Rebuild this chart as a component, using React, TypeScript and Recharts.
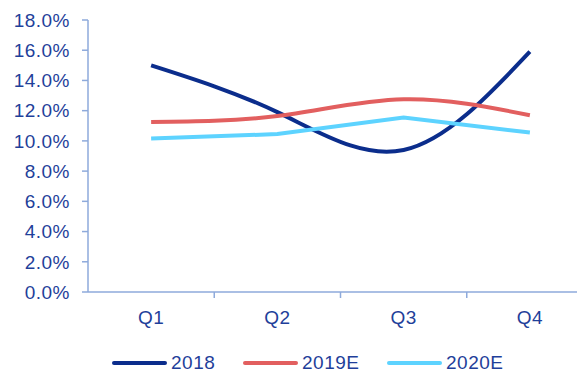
import React from "react";
import { LineChart, Line, XAxis, YAxis, Legend } from "recharts";

const categories = ["Q1", "Q2", "Q3", "Q4"];
const s2018 = [15.0, 11.9, 9.4, 15.9];
const s2019E = [11.25, 11.65, 12.75, 11.7];
const s2020E = [10.15, 10.45, 11.55, 10.55];
const yTicks = [0, 2, 4, 6, 8, 10, 12, 14, 16, 18];

const data = categories.map((c, i) => ({
  name: c,
  "2018": s2018[i],
  "2019E": s2019E[i],
  "2020E": s2020E[i],
}));

const W = 585;
const H = 364;
const LEFT = 80;
const BAND = (W - LEFT) / categories.length;
const TEXT = "#1F3F9A";
const AXIS = "#8EAADB";
const FONT = "'Liberation Sans', Arial, sans-serif";

const series = [
  { key: "2018", color: "#0B2D8C", type: "natural" as const, left: 104 },
  { key: "2019E", color: "#E25F5F", type: "natural" as const, left: 235 },
  { key: "2020E", color: "#5DD3FF", type: "linear" as const, left: 379 },
];

const XTick = (props: any) => {
  const { x, y, payload, index } = props;
  return (
    <g>
      {index > 0 && (
        <line x1={x - BAND / 2} y1={y} x2={x - BAND / 2} y2={y + 6} stroke={AXIS} strokeWidth={1.5} />
      )}
      <text x={x} y={y + 25} textAnchor="middle" dominantBaseline="central" fill={TEXT} fontSize={19} letterSpacing={0.5} fontFamily={FONT}>
        {payload.value}
      </text>
    </g>
  );
};

const LegendContent = () => (
  <div style={{ position: "relative", height: 30, fontFamily: FONT, fontSize: 19, letterSpacing: 0.5, color: TEXT }}>
    {series.map((s) => (
      <div key={s.key} style={{ position: "absolute", left: s.left, top: 0, height: 30, display: "flex", alignItems: "center" }}>
        <div style={{ width: 55, height: 4, borderRadius: 2, background: s.color, marginRight: 4 }} />
        <span>{s.key}</span>
      </div>
    ))}
  </div>
);

export default function App() {
  return (
    <LineChart width={W} height={H} data={data} margin={{ top: 12, right: 0, left: 0, bottom: 0 }}>
      <XAxis
        dataKey="name"
        scale="band"
        axisLine={{ stroke: AXIS, strokeWidth: 1.5 }}
        tickLine={false}
        tickSize={0}
        tickMargin={0}
        tick={<XTick />}
        height={50}
        interval={0}
      />
      <YAxis
        domain={[0, 18]}
        ticks={yTicks}
        width={LEFT}
        axisLine={{ stroke: AXIS, strokeWidth: 1.5 }}
        tickLine={{ stroke: AXIS, strokeWidth: 1.5 }}
        tickSize={6}
        tickMargin={12}
        tickFormatter={(v: number) => v.toFixed(1) + "%"}
        tick={{ fill: TEXT, fontSize: 19, fontFamily: FONT, letterSpacing: 0.5 }}
        interval={0}
      />
      <Legend
        verticalAlign="bottom"
        content={<LegendContent />}
        wrapperStyle={{ height: 30, top: 340, left: 0, width: W }}
      />
      {series.map((s) => (
        <Line
          key={s.key}
          dataKey={s.key}
          type={s.type}
          stroke={s.color}
          strokeWidth={4}
          dot={false}
          activeDot={false}
          isAnimationActive={false}
        />
      ))}
    </LineChart>
  );
}
